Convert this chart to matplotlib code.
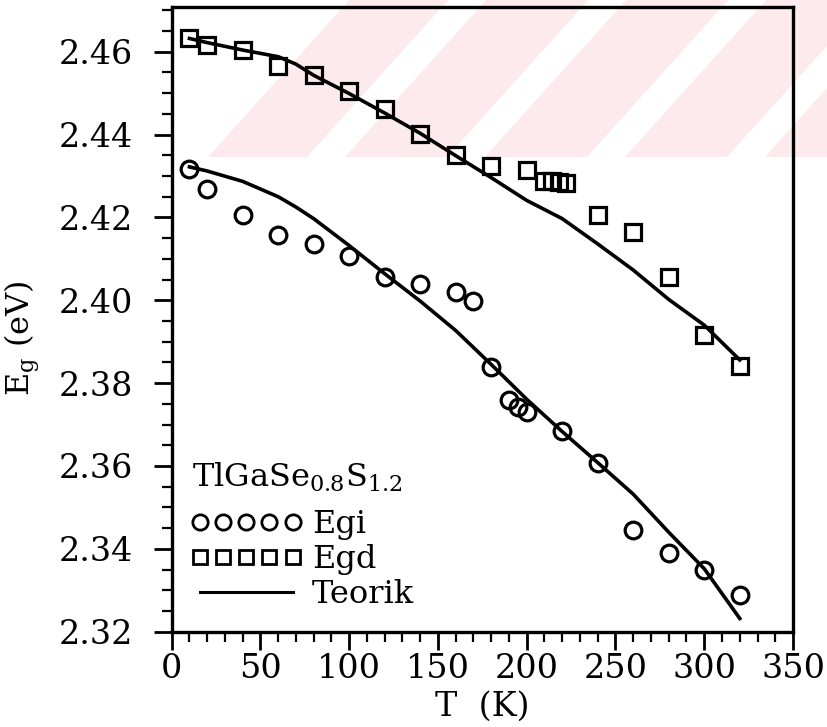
import numpy as np
import matplotlib
matplotlib.use("Agg")
import matplotlib.pyplot as plt
from matplotlib.patches import Polygon
from matplotlib.lines import Line2D
from matplotlib.ticker import MultipleLocator, FormatStrFormatter

plt.rcParams['font.family'] = ['DejaVu Serif']
plt.rcParams['mathtext.fontset'] = 'dejavuserif'

# Indirect gap (circles)
T_egi = [10, 20, 40, 60, 80, 100, 120, 140, 160, 170, 180, 190, 195, 200,
         220, 240, 260, 280, 300, 320]
Egi = [2.4316, 2.4269, 2.4206, 2.4157, 2.4137, 2.4108, 2.4057, 2.4039,
       2.4019, 2.3998, 2.3839, 2.3759, 2.3743, 2.3730, 2.3684, 2.3608,
       2.3446, 2.3389, 2.3348, 2.3288]

# Direct gap (squares)
T_egd = [10, 20, 40, 60, 80, 100, 120, 140, 160, 180, 200, 210, 214, 218,
         222, 240, 260, 280, 300, 320]
Egd = [2.4634, 2.4617, 2.4604, 2.4565, 2.4544, 2.4504, 2.4462, 2.4402,
       2.4351, 2.4324, 2.4314, 2.4289, 2.4289, 2.4285, 2.4283, 2.4207,
       2.4164, 2.4057, 2.3917, 2.3842]

# Theoretical fits
T_fit = [10, 20, 40, 60, 70, 80, 100, 120, 140, 160, 180, 200, 220, 240,
         260, 280, 300, 320]
Egd_fit = [2.4632, 2.4622, 2.4604, 2.4588, 2.4570, 2.4543, 2.4499, 2.4452,
           2.4403, 2.4349, 2.4296, 2.4241, 2.4197, 2.4136, 2.4073, 2.4002,
           2.3940, 2.3856]
Egi_fit = [2.4322, 2.4312, 2.4287, 2.4250, 2.4225, 2.4197, 2.4132, 2.4064,
           2.3998, 2.3927, 2.3845, 2.3761, 2.3683, 2.3608, 2.3532, 2.3440,
           2.3352, 2.3232]

W, H = 827, 727
fig = plt.figure(figsize=(W / 100, H / 100), dpi=100)


def px(points):
    # pixel coords (origin top-left) -> figure fraction
    return [(x / W, 1 - y / H) for x, y in points]


# faint diagonal stripes in the top band
band_bottom = 157
slope = 0.9
band = Polygon(px([(208, band_bottom), (208 + slope * band_bottom, 0),
                   (W, 0), (W, band_bottom)]),
               closed=True, transform=fig.transFigure, facecolor='#fdeaed',
               edgecolor='none', zorder=-2)
fig.add_artist(band)
for x0 in [307, 447, 587, 727]:
    gap = Polygon(px([(x0, band_bottom), (x0 + 38, band_bottom),
                      (x0 + 38 + slope * band_bottom, 0),
                      (x0 + slope * band_bottom, 0)]),
                  closed=True, transform=fig.transFigure, facecolor='white',
                  edgecolor='none', zorder=-1)
    fig.add_artist(gap)

ax = fig.add_axes([0.2076, 0.1311, 0.7513, 0.8593])
ax.set_facecolor('none')

ax.plot(T_fit, Egd_fit, color='k', lw=2.6)
ax.plot(T_fit, Egi_fit, color='k', lw=2.6)
ax.plot(T_egi, Egi, ls='none', marker='o', ms=12, mfc='none', mec='k', mew=2.3)
ax.plot(T_egd, Egd, ls='none', marker='s', ms=11, mfc='none', mec='k', mew=2.3)

ax.set_xlim(0, 350)
ax.set_ylim(2.32, 2.4708)
ax.xaxis.set_major_locator(MultipleLocator(50))
ax.xaxis.set_minor_locator(MultipleLocator(10))
ax.yaxis.set_major_locator(MultipleLocator(0.02))
ax.yaxis.set_minor_locator(MultipleLocator(0.005))
ax.yaxis.set_major_formatter(FormatStrFormatter('%.2f'))

ax.tick_params(which='major', direction='out', length=13, width=2,
               labelsize=24)
ax.tick_params(which='minor', direction='out', length=7, width=1.6)
ax.tick_params(axis='x', which='major', pad=2)
ax.tick_params(axis='y', which='major', pad=15)
for sp in ax.spines.values():
    sp.set_linewidth(2.4)

ax.set_xlabel('T  (K)', fontsize=24)
ax.xaxis.set_label_coords(0.5, -0.094)
ax.set_ylabel(r'E$_{\mathregular{g}}$ (eV)', fontsize=23)
ax.yaxis.set_label_coords(-0.208, 0.47)

# sample name above the legend rows
ax.text(0.033, 0.2316, r'TlGaSe$_{0.8}$S$_{1.2}$', transform=ax.transAxes,
        fontsize=23, ha='left', va='baseline')

handles = [
    Line2D([], [], ls='none', marker='o', ms=11, mfc='none', mec='k', mew=2),
    Line2D([], [], ls='none', marker='s', ms=10, mfc='none', mec='k', mew=2),
    Line2D([], [], color='k', lw=2.2),
]
leg = ax.legend(handles, ['Egi', 'Egd', 'Teorik'], loc='lower left',
                bbox_to_anchor=(0.03, 0.035), frameon=False, numpoints=5,
                handlelength=3.5, handletextpad=0.3, labelspacing=0.12,
                borderpad=0, borderaxespad=0, fontsize=23)

fig.savefig('out.png', dpi=100)
